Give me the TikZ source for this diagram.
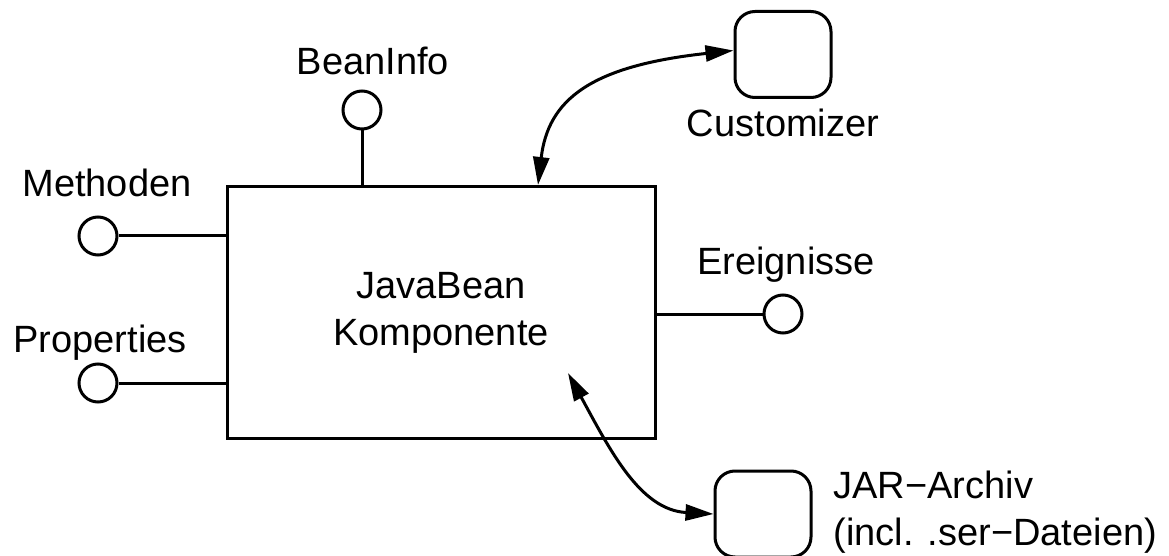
\documentclass[tikz,border=0pt]{standalone}
\usepackage{fontspec}
\setmainfont{Liberation Sans}
\usepackage{tikz}
\usetikzlibrary{arrows.meta,positioning}

\begin{document}
\begin{tikzpicture}[x=0.5pt, y=-0.5pt, line width=1.5pt,
            font=\fontsize{19}{23.5}\selectfont,
            port/.style={draw, circle, inner sep=0pt, minimum size=19pt},
            roundbox/.style={draw, rounded corners=10pt, minimum width=48pt, minimum height=43pt},
            lbl/.style={inner sep=0pt, anchor=base},
            biarrow/.style={{Triangle[length=14pt,width=8pt]}-{Triangle[length=14pt,width=8pt]}}]
            \clip (0,0) rectangle (1169,556);

            % Komponente
            \node[draw, minimum width=214pt, minimum height=126pt, align=center] (bean) at (441,312.5) {JavaBean\\Komponente};

            % Schnittstellen
            \node[port] (info) at (362,110) {};
            \node[port] (meth) at (98,236) {};
            \node[port] (prop) at (98,383) {};
            \node[port] (evt)  at (783,314) {};
            \draw (info) -- (info |- bean.north);
            \draw (meth) -- (meth -| bean.west);
            \draw (prop) -- (prop -| bean.west);
            \draw (evt)  -- (evt -| bean.east);

            \node[lbl] (infolbl) at (373,75)  {BeanInfo};
            \node[lbl] (methlbl) at (107,197) {Methoden};
            \node[lbl] (proplbl) at (100,352) {Properties};
            \node[lbl] (evtlbl)  at (786,275) {Ereignisse};

            % Customizer und Archiv
            \node[roundbox] (cust) at (783,54.5) {};
            \node[lbl] (custlbl) at (783,137) {Customizer};
            \node[roundbox] (jar) at (763,514) {};
            \node[inner sep=0pt, anchor=base west, align=left] (jarlbl) at (832,545) {JAR−Archiv\\(incl. .ser−Dateien)};

            \coordinate (custin) at (538,185);
            \coordinate (jarin) at (568,373);
            \draw[biarrow] (cust.west) ++(0,-4) .. controls (590,66) and (548,100) .. (custin);
            \draw[biarrow] (jarin) .. controls (610,450) and (640,510) .. (jar.west);
        \end{tikzpicture}
\end{document}
